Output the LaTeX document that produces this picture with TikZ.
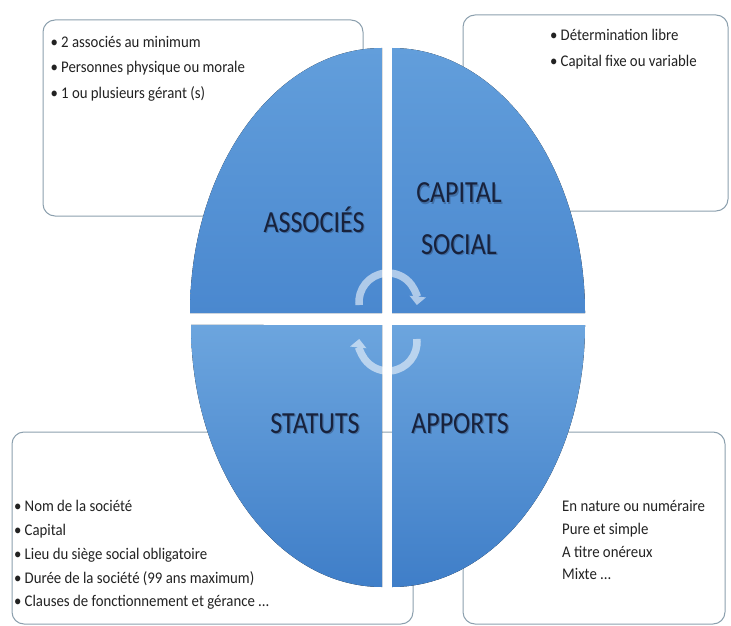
\documentclass[tikz,border=0pt]{standalone}
\usepackage{fontspec}
\setmainfont{Carlito}
\usetikzlibrary{arrows.meta}
\definecolor{boxline}{HTML}{8CA0AE}
\definecolor{quadtopA}{HTML}{629EDB}
\definecolor{quadbotA}{HTML}{4A88CF}
\definecolor{quadtopB}{HTML}{6CA5DE}
\definecolor{quadbotB}{HTML}{3F7EC8}
\definecolor{labelink}{HTML}{18223C}
\definecolor{itemink}{HTML}{222222}
\newcommand\itembullet{\makebox[10.5bp][l]{•}}
\newcommand\tall[1]{\scalebox{1}[1.18]{#1}}
\newcommand\itemline[1]{\scalebox{1}[1.1]{#1}}
\begin{document}
\begin{tikzpicture}[x=1bp,y=-1bp,
  infobox/.style={draw=boxline, line width=1bp, fill=white, rounded corners=12bp},
  upperquad/.style={top color=quadtopA, bottom color=quadbotA},
  lowerquad/.style={top color=quadtopB, bottom color=quadbotB},
  item/.style={anchor=base west, inner sep=0pt, text=itemink,
    font=\fontsize{14.8bp}{17bp}\selectfont},
  quadlabel/.style={anchor=base, inner sep=0pt, text=labelink,
    font=\fontsize{26bp}{30bp}\selectfont},
  labelshadow/.style={quadlabel, text opacity=0.3},
  cyclearrow/.style={draw=white, line width=7.5bp,
    -{Triangle[width=16bp,length=8.5bp]}}
]
\useasboundingbox (0,0) rectangle (731,626);
\clip (0,0) rectangle (731,626);

% text boxes behind the ellipse
\draw[infobox] (43,20) rectangle (363,216);
\draw[infobox] (463,15) rectangle (728,211);
\draw[infobox] (12,432) rectangle (413,624);
\draw[infobox] (463,432) rectangle (725,624);

% the four quarters of the ellipse
\fill[upperquad] (382,313) -- (190,313)
  arc[start angle=180, end angle=90, x radius=192bp, y radius=265bp] -- cycle;
\fill[upperquad] (392,313) -- (392,48)
  arc[start angle=90, end angle=0, x radius=193bp, y radius=265bp] -- cycle;
\fill[lowerquad] (382,325) -- (382,587)
  arc[start angle=270, end angle=180, x radius=191bp, y radius=262bp] -- cycle;
\fill[lowerquad] (392,325) -- (585,325)
  arc[start angle=0, end angle=-90, x radius=193bp, y radius=262bp] -- cycle;

% cycle arrows in the middle
\coordinate (uppercycle) at (388,302);
\coordinate (lowercycle) at (388,342);
\begin{scope}[transparency group, opacity=0.55]
  \draw[cyclearrow] (uppercycle) ++(-28.84,3.03)
    arc[start angle=186, end angle=-6, radius=29bp];
  \draw[cyclearrow] (lowercycle) ++(28.84,-3.03)
    arc[start angle=6, end angle=-186, radius=29bp];
\end{scope}

% quarter titles
\node[labelshadow] (assocs) at (315.2,233.2) {\tall{ASSOCIÉS}};
\node[labelshadow] (capitals) at (460.2,204.2) {\tall{CAPITAL}};
\node[labelshadow] (socials) at (460.2,255.2) {\tall{SOCIAL}};
\node[labelshadow] (statutss) at (316.2,434.2) {\tall{STATUTS}};
\node[labelshadow] (apportss) at (461.2,434.2) {\tall{APPORTS}};
\node[quadlabel] (assoc) at (314,232) {\tall{ASSOCIÉS}};
\node[quadlabel] (capital) at (459,203) {\tall{CAPITAL}};
\node[quadlabel] (social) at (459,254) {\tall{SOCIAL}};
\node[quadlabel] (statuts) at (315,433) {\tall{STATUTS}};
\node[quadlabel] (apports) at (460,433) {\tall{APPORTS}};

% box contents
\node[item] (tl1) at (50.5,47.5) {\itemline{\itembullet 2 associés au minimum}};
\node[item] (tl2) at (50.5,73) {\itemline{\itembullet Personnes physique ou morale}};
\node[item] (tl3) at (50.5,98.5) {\itemline{\itembullet 1 ou plusieurs gérant (s)}};

\node[item] (tr1) at (550,40.5) {\itemline{\itembullet Détermination libre}};
\node[item] (tr2) at (550,66.5) {\itemline{\itembullet Capital fixe ou variable}};

\node[item] (bl1) at (14,511.7) {\itemline{\itembullet Nom de la société}};
\node[item] (bl2) at (14,535.5) {\itemline{\itembullet Capital}};
\node[item] (bl3) at (14,559.5) {\itemline{\itembullet Lieu du siège social obligatoire}};
\node[item] (bl4) at (14,583.3) {\itemline{\itembullet Durée de la société (99 ans maximum)}};
\node[item] (bl5) at (14,606.7) {\itemline{\itembullet Clauses de fonctionnement et gérance ...}};

\node[item] (br1) at (562,511.7) {\itemline{En nature ou numéraire}};
\node[item] (br2) at (562,534.5) {\itemline{Pure et simple}};
\node[item] (br3) at (562,557) {\itemline{A titre onéreux}};
\node[item] (br4) at (562,579.5) {\itemline{Mixte ...}};
\end{tikzpicture}
\end{document}
